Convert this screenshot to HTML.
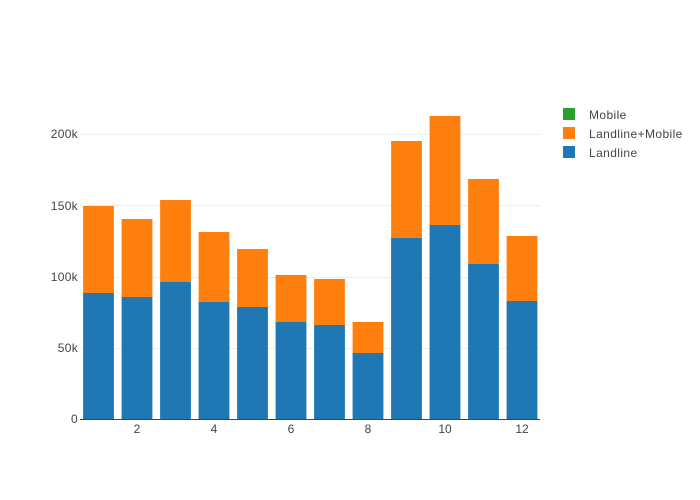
<!DOCTYPE html>
<html><head><style>body{margin:0;background:#fff}svg{display:block;font-family:"Liberation Sans",sans-serif}</style></head><body>
<svg width="700" height="500" xmlns="http://www.w3.org/2000/svg">
<rect width="700" height="500" fill="#fff"/>
<g stroke="#eee" stroke-width="1">
<line x1="80" x2="540" y1="348.5" y2="348.5"/>
<line x1="80" x2="540" y1="277.5" y2="277.5"/>
<line x1="80" x2="540" y1="205.5" y2="205.5"/>
<line x1="80" x2="540" y1="134.5" y2="134.5"/>
</g>
<g fill="#1f77b4">
<rect x="83.1" y="293" width="30.8" height="126"/>
<rect x="121.6" y="297" width="30.8" height="122"/>
<rect x="160.1" y="282" width="30.8" height="137"/>
<rect x="198.6" y="302" width="30.8" height="117"/>
<rect x="237.1" y="307" width="30.8" height="112"/>
<rect x="275.6" y="322" width="30.8" height="97"/>
<rect x="314.1" y="325" width="30.8" height="94"/>
<rect x="352.6" y="353" width="30.8" height="66"/>
<rect x="391.1" y="238" width="30.8" height="181"/>
<rect x="429.6" y="225" width="30.8" height="194"/>
<rect x="468.1" y="264" width="30.8" height="155"/>
<rect x="506.6" y="301" width="30.8" height="118"/>
</g>
<g fill="#ff7f0e">
<rect x="83.1" y="206" width="30.8" height="87"/>
<rect x="121.6" y="219" width="30.8" height="78"/>
<rect x="160.1" y="200" width="30.8" height="82"/>
<rect x="198.6" y="232" width="30.8" height="70"/>
<rect x="237.1" y="249" width="30.8" height="58"/>
<rect x="275.6" y="275" width="30.8" height="47"/>
<rect x="314.1" y="279" width="30.8" height="46"/>
<rect x="352.6" y="322" width="30.8" height="31"/>
<rect x="391.1" y="141" width="30.8" height="97"/>
<rect x="429.6" y="116" width="30.8" height="109"/>
<rect x="468.1" y="179" width="30.8" height="85"/>
<rect x="506.6" y="236" width="30.8" height="65"/>
</g>
<line x1="80" x2="540" y1="419.5" y2="419.5" stroke="#444" stroke-width="1"/>
<g fill="#444" font-size="12" text-anchor="end" letter-spacing="0.3">
<text x="78" y="423">0</text>
<text x="78" y="352">50k</text>
<text x="78" y="281">100k</text>
<text x="78" y="210">150k</text>
<text x="78" y="138">200k</text>
</g>
<g fill="#444" font-size="12" text-anchor="middle">
<text x="137" y="433">2</text>
<text x="214" y="433">4</text>
<text x="291" y="433">6</text>
<text x="368" y="433">8</text>
<text x="445" y="433">10</text>
<text x="522" y="433">12</text>
</g>
<rect x="563" y="108" width="12" height="12" fill="#2ca02c"/>
<rect x="563" y="127" width="12" height="12" fill="#ff7f0e"/>
<rect x="563" y="146" width="12" height="12" fill="#1f77b4"/>
<g fill="#444" font-size="12" letter-spacing="0.4">
<text x="589" y="119">Mobile</text>
<text x="589" y="138">Landline+Mobile</text>
<text x="589" y="157">Landline</text>
</g>
</svg>
</body></html>
